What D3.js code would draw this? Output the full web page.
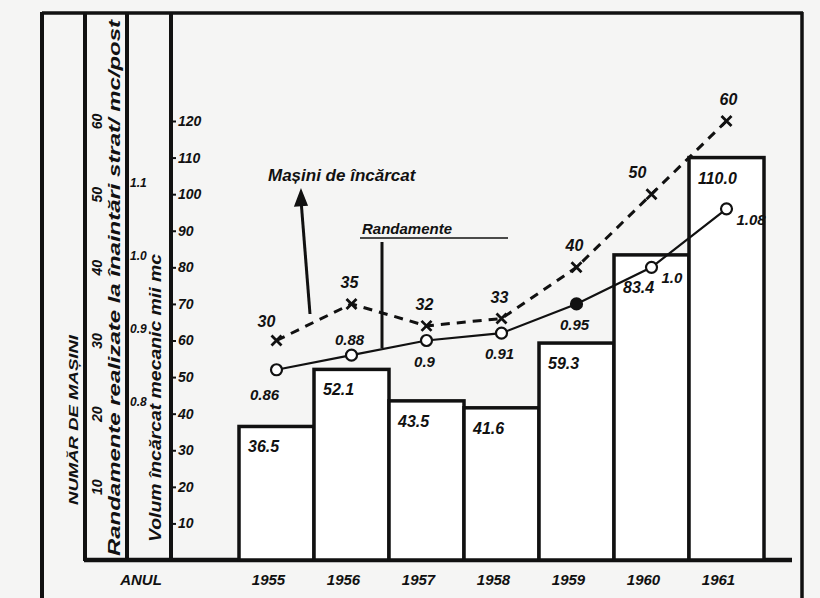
<!DOCTYPE html>
<html><head><meta charset="utf-8">
<script src="https://cdn.jsdelivr.net/npm/d3@7"></script>
<style>
html,body{margin:0;padding:0;background:#f5f5f4;}
text{font-family:"Liberation Sans",Arial,sans-serif;font-weight:bold;font-style:italic;fill:#111;}
</style></head>
<body>
<svg id="c" width="820" height="598"></svg>
<script>
const years = ["1955","1956","1957","1958","1959","1960","1961"];
const volume = [36.5, 52.1, 43.5, 41.6, 59.3, 83.4, 110.0];
const volumeLabels = ["36.5","52.1","43.5","41.6","59.3","83.4","110.0"];
const randament = [0.86, 0.88, 0.9, 0.91, 0.95, 1.0, 1.08];
const randamentLabels = ["0.86","0.88","0.9","0.91","0.95","1.0","1.08"];
const masini = [30, 35, 32, 33, 40, 50, 60];
const volumeTicks = [10,20,30,40,50,60,70,80,90,100,110,120];
const masiniTicks = [10,20,30,40,50,60];
const randTicks = [0.8,0.9,1.0,1.1];
// label placement keywords (layout only)
const randPlace = ["bl","a","b","b","b","r","r"];

const svg = d3.select("#c");
const ink = "#111";
const x = d3.scaleBand().domain(years).range([239, 764]).padding(0);
const yVol = d3.scaleLinear().domain([0,120]).range([560,121]);
const yMas = d3.scaleLinear().domain([0,60]).range([560,121]);
const yRand = d3.scaleLinear().domain([0.6,1.2]).range([560,121]);
const cx = d => x(d) + x.bandwidth()/2;

// frame
const g = svg.append("g");
g.append("line").attr("x1",42).attr("x2",803).attr("y1",13).attr("y2",13).attr("stroke",ink).attr("stroke-width",3.5);
g.append("line").attr("x1",42).attr("x2",42).attr("y1",12).attr("y2",598).attr("stroke",ink).attr("stroke-width",4);
g.append("line").attr("x1",802).attr("x2",802).attr("y1",12).attr("y2",598).attr("stroke",ink).attr("stroke-width",3.5);
[85,127,171].forEach(xx=>g.append("line").attr("x1",xx).attr("x2",xx).attr("y1",12).attr("y2",561).attr("stroke",ink).attr("stroke-width",4));
g.append("line").attr("x1",84).attr("x2",792).attr("y1",560).attr("y2",560).attr("stroke",ink).attr("stroke-width",4.5);

// bars
svg.append("g").selectAll("rect").data(years).join("rect")
  .attr("x", d=>x(d)).attr("width", x.bandwidth())
  .attr("y", (d,i)=>yVol(volume[i])).attr("height",(d,i)=>560-yVol(volume[i]))
  .attr("fill","#fff").attr("stroke",ink).attr("stroke-width",3.5);
svg.append("g").selectAll("text").data(years).join("text")
  .attr("x", d=>x(d)+9).attr("y",(d,i)=>yVol(volume[i])+ (i===5?38:26))
  .attr("font-size",16).text((d,i)=>volumeLabels[i]);

// axes
const axV = d3.axisRight(yVol).tickValues(volumeTicks).tickSize(3).tickFormat(d3.format("d"));
const gv = svg.append("g").attr("transform","translate(173,0)").call(axV);
gv.select(".domain").remove();
gv.selectAll("text").attr("font-size",14).attr("x",5).style("font-family","Liberation Sans").style("font-weight","bold").style("font-style","italic");
gv.selectAll("line").attr("stroke",ink).attr("stroke-width",2);

const axM = d3.axisLeft(yMas).tickValues(masiniTicks).tickSize(0);
const gm = svg.append("g").attr("transform","translate(98,0)").call(axM);
gm.select(".domain").remove();
gm.selectAll("text").attr("x",0).attr("y",4).attr("dy",null)
  .attr("transform","rotate(-90)").attr("text-anchor","middle")
  .attr("font-size",14).style("font-family","Liberation Sans").style("font-weight","bold").style("font-style","italic");

const axR = d3.axisRight(yRand).tickValues(randTicks).tickSize(0).tickFormat(d3.format(".1f"));
const gr = svg.append("g").attr("transform","translate(129,-12)").call(axR);
gr.select(".domain").remove();
gr.selectAll("text").attr("font-size",12).attr("x",1).style("font-family","Liberation Sans").style("font-weight","bold").style("font-style","italic");

// axis titles (rotated)
function vtext(xx, yy, txt, size, len){
  const t = svg.append("text").attr("transform",`translate(${xx},${yy}) rotate(-90)`)
    .attr("font-size",size).text(txt);
  if(len) t.attr("textLength",len).attr("lengthAdjust","spacingAndGlyphs");
  return t;
}
vtext(78, 505, "NUMĂR DE MAȘINI", 13, 170);
vtext(120, 556, "Randamente realizate la înaintări strat/ mc/post", 17, 536);
vtext(161, 542, "Volum încărcat mecanic mii mc", 16, 288);
svg.append("text").attr("x",141).attr("y",585).attr("text-anchor","middle").attr("font-size",15).text("ANUL");

// years
svg.append("g").selectAll("text").data(years).join("text")
  .attr("x", d=>cx(d)-8).attr("y",585).attr("text-anchor","middle").attr("font-size",15).text(d=>d);

// Masini dashed line
const lineM = d3.line().x((d,i)=>cx(years[i])).y(d=>yMas(d));
svg.append("path").attr("d",lineM(masini)).attr("fill","none").attr("stroke",ink)
  .attr("stroke-width",3).attr("stroke-dasharray","9,7");
svg.append("g").selectAll("path").data(masini).join("path")
  .attr("transform",(d,i)=>`translate(${cx(years[i])},${yMas(d)})`)
  .attr("d","M-5,-5L5,5M-5,5L5,-5").attr("stroke",ink).attr("stroke-width",2.8);
svg.append("g").selectAll("text").data(masini).join("text")
  .attr("x",(d,i)=>cx(years[i]) + (i===0?-10:(i===5?-14:(i===6?2:-2))))
  .attr("y",(d,i)=>yMas(d) - (i===0?14:16))
  .attr("text-anchor","middle").attr("font-size",16).text(d=>d);

// Randament line
const lineR = d3.line().x((d,i)=>cx(years[i])).y(d=>yRand(d));
svg.append("path").attr("d",lineR(randament)).attr("fill","none").attr("stroke",ink).attr("stroke-width",2.2);
svg.append("g").selectAll("circle").data(randament).join("circle")
  .attr("cx",(d,i)=>cx(years[i])).attr("cy",d=>yRand(d)).attr("r",5.5)
  .attr("fill",(d,i)=>i===4?ink:"#fff").attr("stroke",ink).attr("stroke-width",2.2);
svg.append("g").selectAll("text").data(randament).join("text")
  .attr("x",(d,i)=>{const p=randPlace[i], c=cx(years[i]); return p==="bl"?c-12:(p==="r"?c+10:c-2);})
  .attr("y",(d,i)=>{const p=randPlace[i], c=yRand(d); return p==="a"?c-10:(p==="r"?c+16:(p==="bl"?c+30:c+26));})
  .attr("text-anchor",(d,i)=>randPlace[i]==="r"?"start":"middle")
  .attr("font-size",15).text((d,i)=>randamentLabels[i]);

// annotations
svg.append("text").attr("x",268).attr("y",181).attr("font-size",17).text("Mașini de încărcat");
const ann = svg.append("g").attr("stroke",ink).attr("stroke-width",3);
ann.append("line").attr("x1",310).attr("y1",314).attr("x2",301).attr("y2",200);
ann.append("path").attr("d","M301,190 L295,206 L307,205 Z").attr("fill",ink).attr("stroke-width",1.5);
svg.append("text").attr("x",362).attr("y",234).attr("font-size",15).text("Randamente");
svg.append("line").attr("x1",360).attr("x2",508).attr("y1",238).attr("y2",238).attr("stroke",ink).attr("stroke-width",1.5);
svg.append("line").attr("x1",382).attr("x2",382).attr("y1",242).attr("y2",348).attr("stroke",ink).attr("stroke-width",3);
</script>
</body></html>
